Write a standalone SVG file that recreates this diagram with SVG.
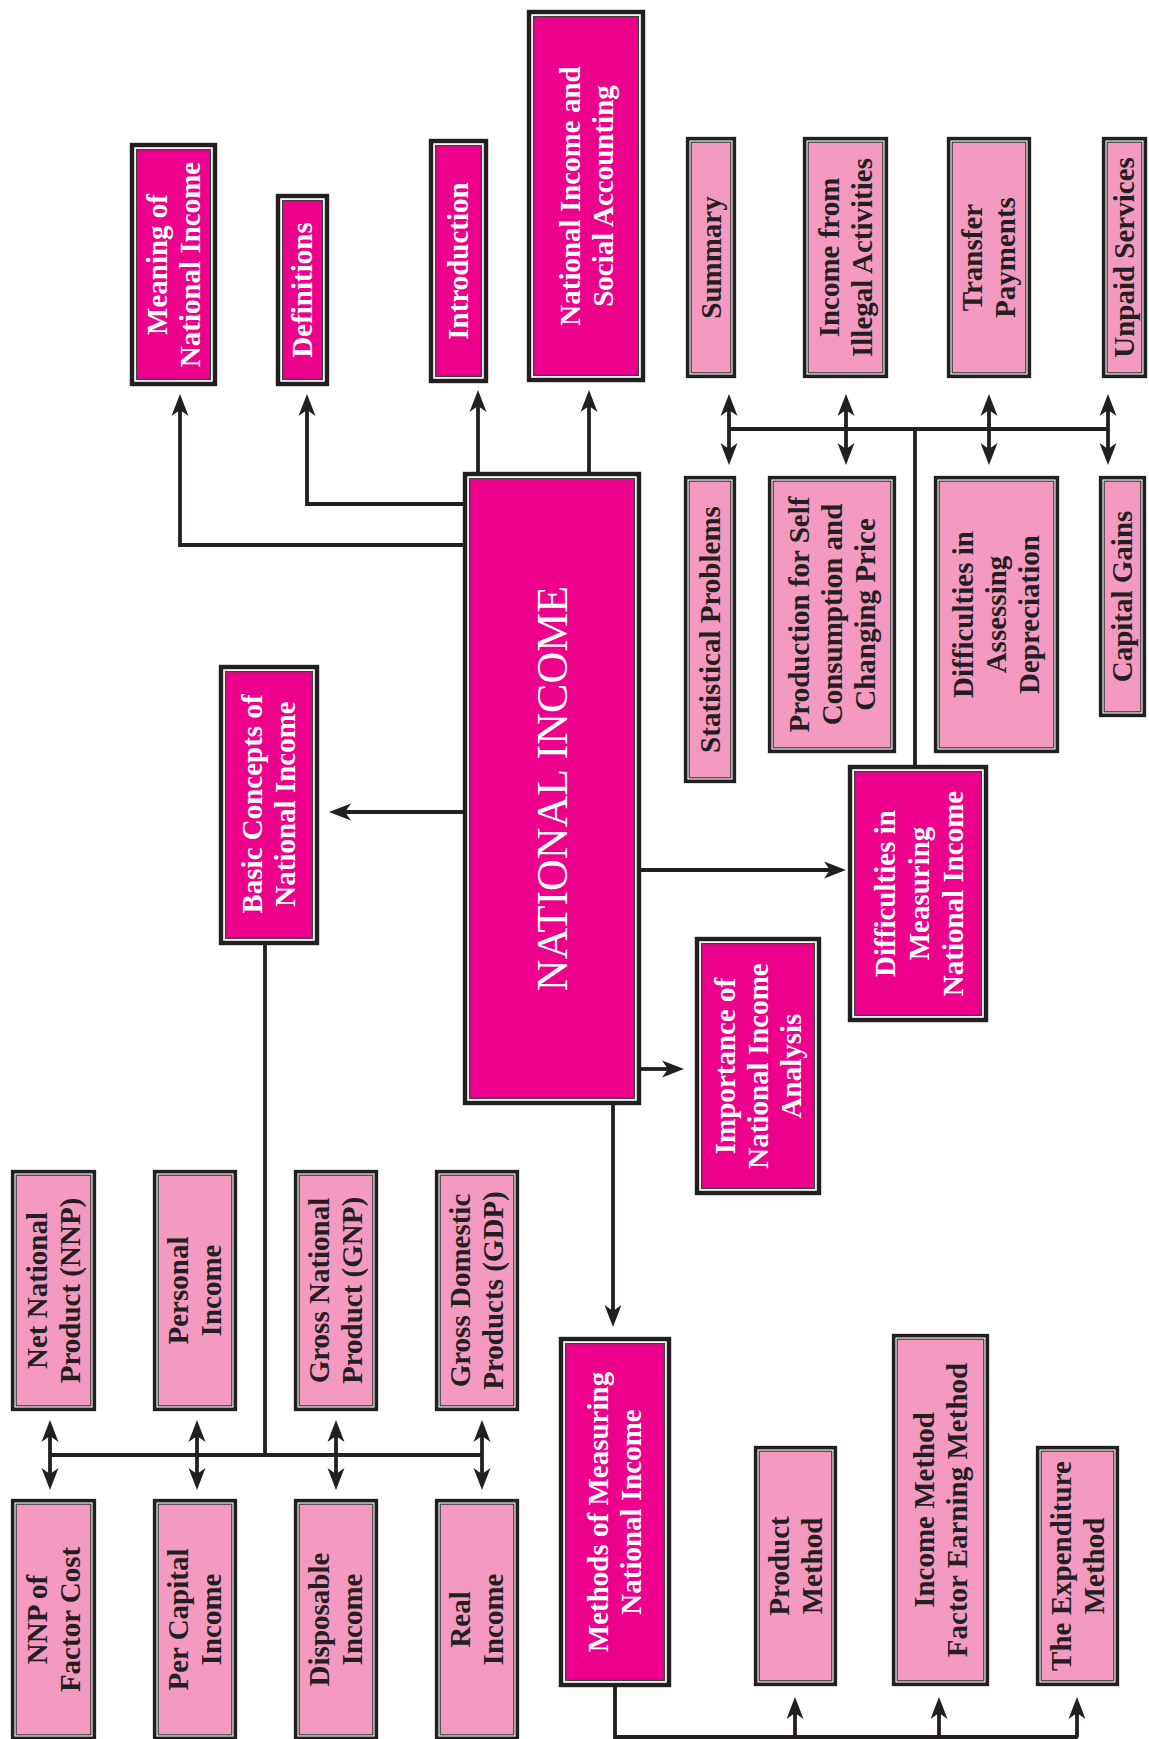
<svg xmlns="http://www.w3.org/2000/svg" width="1149" height="1739" viewBox="0 0 1149 1739">
<style>
.mo{fill:#fff;stroke:#231f20;stroke-width:4.4}
.mi{fill:#ec008c;stroke:#414042;stroke-width:1.3}
.po{fill:#fff;stroke:#231f20;stroke-width:3.6}
.pi{fill:#f49ac1;stroke:#414042;stroke-width:1.3}
.tw{font-family:"Liberation Serif","Times New Roman",serif;font-weight:bold;font-size:29px;fill:#fff;text-anchor:middle}
.tb{font-family:"Liberation Serif","Times New Roman",serif;font-weight:bold;font-size:29px;fill:#231f20;text-anchor:middle}
.tc{font-family:"Liberation Serif","Times New Roman",serif;font-size:44px;fill:#fff;text-anchor:middle}
.conn{fill:none;stroke:#231f20;stroke-width:3.8;stroke-linejoin:miter}
.a1{marker-end:url(#ah)}
.a2{marker-start:url(#ah);marker-end:url(#ah)}
</style>
<defs>
<marker id="ah" markerUnits="userSpaceOnUse" orient="auto-start-reverse" refX="0" refY="0" markerWidth="30" markerHeight="30" overflow="visible">
<path d="M16,0 L-6,-8.5 L0,0 L-6,8.5 Z" fill="#231f20"/>
</marker>
</defs>
<rect x="0" y="0" width="1149" height="1739" fill="#fff"/>

<g id="connectors">
<path class="conn a1" d="M463,545 H180 V410"/>
<path class="conn a1" d="M463,504 H307 V410"/>
<path class="conn a1" d="M478,472 V406"/>
<path class="conn a1" d="M589,472 V406"/>
<path class="conn a1" d="M463,812 H345"/>
<path class="conn a1" d="M641,870 H830"/>
<path class="conn a1" d="M641,1069 H668"/>
<path class="conn a1" d="M613,1105 V1311"/>
<path class="conn" d="M915,765 V427.5"/>
<path class="conn" d="M729,429 H1108"/>
<path class="conn a2" d="M729,410 V449"/>
<path class="conn a2" d="M846,410 V449"/>
<path class="conn a2" d="M989,410 V449"/>
<path class="conn a2" d="M1108,410 V449"/>
<path class="conn" d="M265,945 V1456.5"/>
<path class="conn" d="M50,1455 H482"/>
<path class="conn a2" d="M50,1436 V1474"/>
<path class="conn a2" d="M197,1436 V1474"/>
<path class="conn a2" d="M336,1436 V1474"/>
<path class="conn a2" d="M482,1436 V1474"/>
<path class="conn" d="M615,1687 V1737 H1078"/>
<path class="conn a1" d="M795,1737 V1713"/>
<path class="conn a1" d="M939,1737 V1713"/>
<path class="conn a1" d="M1077,1737 V1713"/>
</g>

<g id="meaning"><rect class="mo" x="132" y="145" width="83" height="239"/><rect class="mi" x="136.6" y="149.6" width="73.8" height="229.8"/>
<text class="tw" transform="translate(173.5,264.5) rotate(-90)"><tspan x="0" y="-6.9">Meaning of</tspan><tspan x="0" y="26.1">National Income</tspan></text></g>

<g id="definitions"><rect class="mo" x="278" y="196" width="49" height="188"/><rect class="mi" x="282.6" y="200.6" width="39.8" height="178.8"/>
<text class="tw" transform="translate(302.5,290) rotate(-90)"><tspan x="0" y="9.6">Definitions</tspan></text></g>

<g id="introduction"><rect class="mo" x="431" y="141" width="55" height="240"/><rect class="mi" x="435.6" y="145.6" width="45.8" height="230.8"/>
<text class="tw" transform="translate(458.5,261) rotate(-90)"><tspan x="0" y="9.6">Introduction</tspan></text></g>

<g id="nisa"><rect class="mo" x="529" y="12" width="114" height="368"/><rect class="mi" x="533.6" y="16.6" width="104.8" height="358.8"/>
<text class="tw" transform="translate(587,196) rotate(-90)"><tspan x="0" y="-6.9">National Income and</tspan><tspan x="0" y="26.1">Social Accounting</tspan></text></g>

<g id="national-income"><rect class="mo" x="465" y="474" width="174" height="629"/><rect class="mi" x="469.6" y="478.6" width="164.8" height="619.8"/>
<text class="tc" transform="translate(552,788.5) rotate(-90)"><tspan x="0" y="14.5">NATIONAL INCOME</tspan></text></g>

<g id="basic"><rect class="mo" x="221" y="667" width="96" height="276"/><rect class="mi" x="225.6" y="671.6" width="86.8" height="266.8"/>
<text class="tw" transform="translate(269,804) rotate(-90)"><tspan x="0" y="-6.9">Basic Concepts of</tspan><tspan x="0" y="26.1">National Income</tspan></text></g>

<g id="diff-measuring"><rect class="mo" x="850" y="767" width="136" height="253"/><rect class="mi" x="854.6" y="771.6" width="126.8" height="243.8"/>
<text class="tw" transform="translate(919,893.5) rotate(-90)"><tspan x="0" y="-24.4">Difficulties in</tspan><tspan x="0" y="9.6">Measuring</tspan><tspan x="0" y="43.6">National Income</tspan></text></g>

<g id="importance"><rect class="mo" x="697" y="939" width="122" height="254"/><rect class="mi" x="701.6" y="943.6" width="112.8" height="244.8"/>
<text class="tw" transform="translate(758,1066) rotate(-90)"><tspan x="0" y="-23.4">Importance of</tspan><tspan x="0" y="9.6">National Income</tspan><tspan x="0" y="42.6">Analysis</tspan></text></g>

<g id="methods"><rect class="mo" x="561" y="1339" width="108" height="346"/><rect class="mi" x="565.6" y="1343.6" width="98.8" height="336.8"/>
<text class="tw" transform="translate(615,1512) rotate(-90)"><tspan x="0" y="-6.9">Methods of Measuring</tspan><tspan x="0" y="26.1">National Income</tspan></text></g>

<g id="summary"><rect class="po" x="687.65" y="138.65" width="46.7" height="237.7"/><rect class="pi" x="691.2" y="142.2" width="39.6" height="230.6"/>
<text class="tb" transform="translate(711,257.5) rotate(-90)"><tspan x="0" y="9.6">Summary</tspan></text></g>

<g id="illegal"><rect class="po" x="804.65" y="138.65" width="81.7" height="237.7"/><rect class="pi" x="808.2" y="142.2" width="74.6" height="230.6"/>
<text class="tb" transform="translate(845.5,257.5) rotate(-90)"><tspan x="0" y="-6.9">Income from</tspan><tspan x="0" y="26.1">Illegal Activities</tspan></text></g>

<g id="transfer"><rect class="po" x="948.65" y="138.65" width="80.7" height="237.7"/><rect class="pi" x="952.2" y="142.2" width="73.6" height="230.6"/>
<text class="tb" transform="translate(989,257.5) rotate(-90)"><tspan x="0" y="-6.9">Transfer</tspan><tspan x="0" y="26.1">Payments</tspan></text></g>

<g id="unpaid"><rect class="po" x="1103.65" y="138.65" width="41.7" height="237.7"/><rect class="pi" x="1107.2" y="142.2" width="34.6" height="230.6"/>
<text class="tb" transform="translate(1124.5,257.5) rotate(-90)"><tspan x="0" y="9.6">Unpaid Services</tspan></text></g>

<g id="statistical"><rect class="po" x="685.65" y="477.65" width="48.7" height="303.7"/><rect class="pi" x="689.2" y="481.2" width="41.6" height="296.6"/>
<text class="tb" transform="translate(710,629.5) rotate(-90)"><tspan x="0" y="9.6">Statistical Problems</tspan></text></g>

<g id="production"><rect class="po" x="769.65" y="477.65" width="124.7" height="273.7"/><rect class="pi" x="773.2" y="481.2" width="117.6" height="266.6"/>
<text class="tb" transform="translate(832,614.5) rotate(-90)"><tspan x="0" y="-23.4">Production for Self</tspan><tspan x="0" y="9.6">Consumption and</tspan><tspan x="0" y="42.6">Changing Price</tspan></text></g>

<g id="assessing"><rect class="po" x="935.65" y="477.65" width="121.7" height="273.7"/><rect class="pi" x="939.2" y="481.2" width="114.6" height="266.6"/>
<text class="tb" transform="translate(996.5,614.5) rotate(-90)"><tspan x="0" y="-23.4">Difficulties in</tspan><tspan x="0" y="9.6">Assessing</tspan><tspan x="0" y="42.6">Depreciation</tspan></text></g>

<g id="capital"><rect class="po" x="1100.65" y="477.65" width="43.7" height="237.7"/><rect class="pi" x="1104.2" y="481.2" width="36.6" height="230.6"/>
<text class="tb" transform="translate(1122.5,596.5) rotate(-90)"><tspan x="0" y="9.6">Capital Gains</tspan></text></g>

<g id="nnp"><rect class="po" x="12.65" y="1171.65" width="81.7" height="237.7"/><rect class="pi" x="16.2" y="1175.2" width="74.6" height="230.6"/>
<text class="tb" transform="translate(53.5,1290.5) rotate(-90)"><tspan x="0" y="-6.9">Net National</tspan><tspan x="0" y="26.1">Product (NNP)</tspan></text></g>

<g id="personal"><rect class="po" x="154.65" y="1171.65" width="80.7" height="237.7"/><rect class="pi" x="158.2" y="1175.2" width="73.6" height="230.6"/>
<text class="tb" transform="translate(195,1290.5) rotate(-90)"><tspan x="0" y="-6.9">Personal</tspan><tspan x="0" y="26.1">Income</tspan></text></g>

<g id="gnp"><rect class="po" x="295.65" y="1171.65" width="80.7" height="237.7"/><rect class="pi" x="299.2" y="1175.2" width="73.6" height="230.6"/>
<text class="tb" transform="translate(336,1290.5) rotate(-90)"><tspan x="0" y="-6.9">Gross National</tspan><tspan x="0" y="26.1">Product (GNP)</tspan></text></g>

<g id="gdp"><rect class="po" x="436.65" y="1171.65" width="80.7" height="237.7"/><rect class="pi" x="440.2" y="1175.2" width="73.6" height="230.6"/>
<text class="tb" transform="translate(477,1290.5) rotate(-90)"><tspan x="0" y="-6.9">Gross Domestic</tspan><tspan x="0" y="26.1">Products (GDP)</tspan></text></g>

<g id="nnp-fc"><rect class="po" x="12.65" y="1500.65" width="81.7" height="237.7"/><rect class="pi" x="16.2" y="1504.2" width="74.6" height="230.6"/>
<text class="tb" transform="translate(53.5,1619.5) rotate(-90)"><tspan x="0" y="-6.9">NNP of</tspan><tspan x="0" y="26.1">Factor Cost</tspan></text></g>

<g id="per-capital"><rect class="po" x="154.65" y="1500.65" width="80.7" height="237.7"/><rect class="pi" x="158.2" y="1504.2" width="73.6" height="230.6"/>
<text class="tb" transform="translate(195,1619.5) rotate(-90)"><tspan x="0" y="-6.9">Per Capital</tspan><tspan x="0" y="26.1">Income</tspan></text></g>

<g id="disposable"><rect class="po" x="295.65" y="1500.65" width="80.7" height="237.7"/><rect class="pi" x="299.2" y="1504.2" width="73.6" height="230.6"/>
<text class="tb" transform="translate(336,1619.5) rotate(-90)"><tspan x="0" y="-6.9">Disposable</tspan><tspan x="0" y="26.1">Income</tspan></text></g>

<g id="real"><rect class="po" x="436.65" y="1500.65" width="80.7" height="237.7"/><rect class="pi" x="440.2" y="1504.2" width="73.6" height="230.6"/>
<text class="tb" transform="translate(477,1619.5) rotate(-90)"><tspan x="0" y="-6.9">Real</tspan><tspan x="0" y="26.1">Income</tspan></text></g>

<g id="product"><rect class="po" x="755.65" y="1447.65" width="79.7" height="236.7"/><rect class="pi" x="759.2" y="1451.2" width="72.6" height="229.6"/>
<text class="tb" transform="translate(795.5,1566) rotate(-90)"><tspan x="0" y="-6.9">Product</tspan><tspan x="0" y="26.1">Method</tspan></text></g>

<g id="income-method"><rect class="po" x="893.65" y="1335.65" width="93.7" height="348.7"/><rect class="pi" x="897.2" y="1339.2" width="86.6" height="341.6"/>
<text class="tb" transform="translate(940.5,1510) rotate(-90)"><tspan x="0" y="-6.9">Income Method</tspan><tspan x="0" y="26.1">Factor Earning Method</tspan></text></g>

<g id="expenditure"><rect class="po" x="1037.65" y="1447.65" width="79.7" height="236.7"/><rect class="pi" x="1041.2" y="1451.2" width="72.6" height="229.6"/>
<text class="tb" transform="translate(1077.5,1566) rotate(-90)"><tspan x="0" y="-6.9">The Expenditure</tspan><tspan x="0" y="26.1">Method</tspan></text></g>
</svg>
